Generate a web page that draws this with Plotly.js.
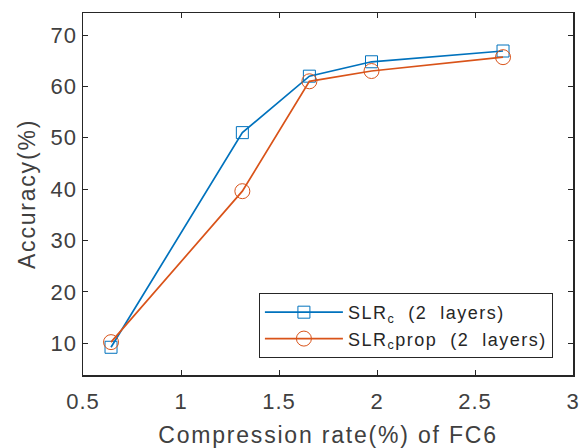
<!DOCTYPE html>
<html>
<head>
<meta charset="utf-8">
<script src="https://cdn.plot.ly/plotly-3.0.1.min.js"></script>
<style>
html,body{margin:0;padding:0;background:#fff;}
#chart{width:582px;height:448px;}
.xtick text, .ytick text{letter-spacing:1px;}
.xtitle, .ytitle{letter-spacing:1.8px;}
.legendtext{letter-spacing:1.5px;}
</style>
</head>
<body>
<div id="chart"></div>
<script>
const compressionRate = [0.643, 1.313, 1.655, 1.972, 2.643];
const slrC = [9.2, 51.0, 62.0, 64.8, 66.9];
const slrCProp = [10.2, 39.6, 61.0, 63.0, 65.7];
const seriesNames = ['SLR<sub>c</sub>\u00a0\u00a0(2\u00a0\u00a0layers)', 'SLR<sub>c</sub>prop\u00a0\u00a0(2\u00a0\u00a0layers)'];
const xTicks = [0.5, 1, 1.5, 2, 2.5, 3];
const xTickText = ['0.5', '1', '1.5', '2', '2.5', '3'];
const yTicks = [10, 20, 30, 40, 50, 60, 70];

const font = 'Liberation Sans, Arial, Helvetica, sans-serif';
const traces = [
  {x: compressionRate, y: slrC, name: seriesNames[0], type: 'scatter', mode: 'lines+markers',
   line: {color: '#0072BD', width: 1.7},
   marker: {symbol: 'square-open', size: 12, color: '#0072BD', line: {width: 1, color: '#0072BD'}}},
  {x: compressionRate, y: slrCProp, name: seriesNames[1], type: 'scatter', mode: 'lines+markers',
   line: {color: '#D95319', width: 1.7},
   marker: {symbol: 'circle-open', size: 15, color: '#D95319', line: {width: 1, color: '#D95319'}}}
];
const axisCommon = {
  showline: true, linecolor: '#262626', linewidth: 1.5, mirror: 'ticks',
  ticks: 'inside', ticklen: 5, tickwidth: 1, tickcolor: '#262626',
  showgrid: false, zeroline: false,
  tickfont: {family: font, size: 22, color: '#404040'}
};
const layout = {
  width: 582, height: 448,
  margin: {l: 83, r: 9, t: 13, b: 73},
  paper_bgcolor: '#fff', plot_bgcolor: '#fff',
  showlegend: true,
  xaxis: Object.assign({}, axisCommon, {
    range: [0.5, 3], tickvals: xTicks, ticktext: xTickText,
    ticklabelstandoff: 6,
    title: {text: 'Compression rate(%) of FC6', font: {family: font, size: 23, color: '#404040'}, standoff: 14}
  }),
  yaxis: Object.assign({}, axisCommon, {
    range: [3.8, 74.3], tickvals: yTicks,
    title: {text: 'Accuracy(%)', font: {family: font, size: 23, color: '#404040'}, standoff: 8}
  }),
  legend: {
    x: 0.959, xanchor: 'right', y: 0.047, yanchor: 'bottom',
    bgcolor: '#fff', bordercolor: '#262626', borderwidth: 1,
    font: {family: font, size: 18, color: '#262626'},
    itemwidth: 78
  }
};
Plotly.newPlot('chart', traces, layout, {displayModeBar: false, staticPlot: true});
</script>
</body>
</html>
